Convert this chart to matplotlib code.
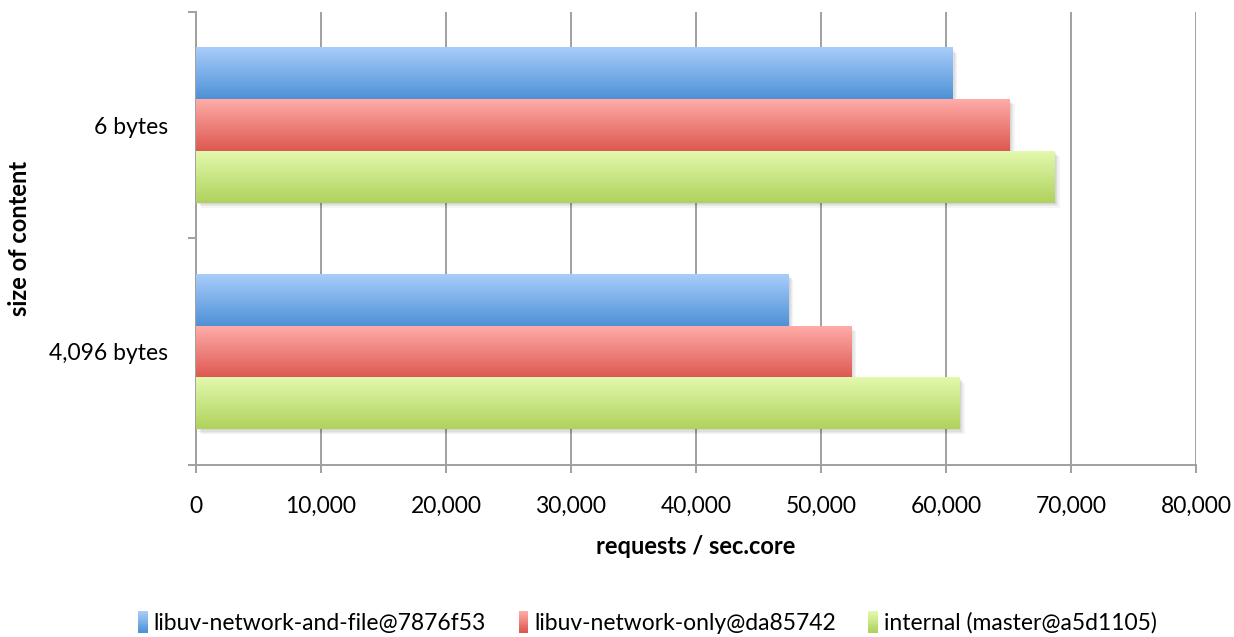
import matplotlib.pyplot as plt
import numpy as np
from matplotlib.colors import LinearSegmentedColormap
from matplotlib.legend_handler import HandlerBase
from matplotlib.patches import Rectangle
from matplotlib.ticker import FuncFormatter
import matplotlib.transforms as mtransforms

plt.rcParams['font.family'] = ['Lato', 'DejaVu Sans']

categorias = ["4,096 bytes", "6 bytes"]
series = ["libuv-network-and-file@7876f53", "libuv-network-only@da85742", "internal (master@a5d1105)"]
valores = [
    [47400, 60500],   # libuv-network-and-file
    [52400, 65100],   # libuv-network-only
    [61100, 68700],   # internal
]
# degradado de cada serie: (arriba, abajo)
colores = [("#a9cdfb", "#4e91d6"), ("#ffaca9", "#dc5850"), ("#e3f9ae", "#afd25c")]

gris = "#a0a0a0"
alto = 0.228
desplaz = [alto, 0, -alto]

fig = plt.figure(figsize=(12.34, 6.37), dpi=100)
ax = fig.add_axes([0.1588, 0.27, 0.8104, 0.7112])

y = np.arange(len(categorias))
grad = np.linspace(0, 1, 256).reshape(-1, 1)

for s in range(len(series)):
    cmap = LinearSegmentedColormap.from_list("c%d" % s, colores[s])
    for i, v in enumerate(valores[s]):
        y0 = y[i] + desplaz[s] - alto / 2
        # sombra suave hacia abajo a la derecha
        for k in range(1, 5):
            off = mtransforms.offset_copy(ax.transData, fig=fig, x=k * 0.9, y=-k * 0.9, units='points')
            ax.add_patch(Rectangle((0, y0), v, alto, transform=off, color='black',
                                   alpha=0.045, lw=0, zorder=2))
        ax.imshow(grad, extent=[0, v, y0, y0 + alto], aspect='auto', cmap=cmap,
                  interpolation='bilinear', zorder=3)

ax.set_xlim(0, 80000)
ax.set_ylim(-0.5, 1.5)

ax.set_xticks(np.arange(0, 80001, 10000))
ax.xaxis.set_major_formatter(FuncFormatter(lambda x, p: f"{int(x):,}"))
ax.set_yticks(y)
ax.set_yticklabels(categorias)
ax.set_yticks([-0.5, 0.5, 1.5], minor=True)

ax.grid(axis='x', color=gris, lw=1.4, zorder=1)
ax.set_axisbelow(True)
for lado in ['top', 'right']:
    ax.spines[lado].set_visible(False)
for lado in ['left', 'bottom']:
    ax.spines[lado].set_color(gris)
    ax.spines[lado].set_linewidth(1.4)

ax.tick_params(axis='x', length=6, width=1.4, color=gris, pad=16, labelsize=16.5)
ax.tick_params(axis='y', which='major', length=0, pad=20, labelsize=16.5)
ax.tick_params(axis='y', which='minor', length=6, width=1.4, color=gris)

ax.set_xlabel("requests / sec.core", fontsize=17, fontweight='bold', labelpad=13)
fig.text(20 / 1234, 1 - 238 / 637, "size of content", rotation=90, ha='center', va='center',
         fontsize=17, fontweight='bold')


class Degradado(HandlerBase):
    def __init__(self, c):
        super().__init__()
        self.c = c

    def create_artists(self, legend, orig, x0, y0, width, height, fontsize, trans):
        cmap = LinearSegmentedColormap.from_list("l", self.c)
        n = 12
        parches = []
        w = 7
        h = height * 1.4
        yb = y0 - (h - height) / 2
        for j in range(n):
            parches.append(Rectangle((x0 + width - w, yb + h * (n - 1 - j) / n), w, h / n,
                                     color=cmap(j / (n - 1)), lw=0, transform=trans))
        return parches


manijas = [Rectangle((0, 0), 1, 1) for _ in series]
fig.legend(manijas, series, loc='center', bbox_to_anchor=(0.5235, 1 - 623 / 637),
           ncol=3, frameon=False, fontsize=16.5, handlelength=0.55, handletextpad=0.25,
           columnspacing=1.3,
           handler_map={m: Degradado(c) for m, c in zip(manijas, colores)})

fig.savefig("out.png", dpi=100)
